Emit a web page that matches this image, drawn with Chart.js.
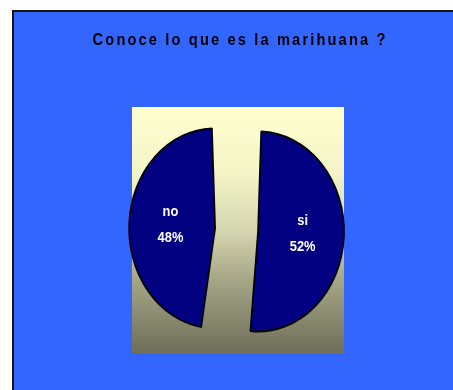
<!DOCTYPE html>
<html>
<head>
<meta charset="utf-8">
<script src="https://cdn.jsdelivr.net/npm/chart.js@4/dist/chart.umd.min.js"></script>
<style>
  html, body { margin: 0; padding: 0; background: #fff; overflow: hidden; }
  canvas { display: block; }
</style>
</head>
<body>
<canvas id="c" width="453" height="390"></canvas>
<script>
// Survey answers: "¿Conoce lo que es la marihuana?"
const chartTitle = 'Conoce lo que es la marihuana ?';
const categories = ['si', 'no'];
const percentages = [52, 48];

// The whole figure is drawn slightly condensed horizontally.
const SX = 0.86;
// Radial growth of each exploded slice (logical px) and base radius.
const GROW = 23.33;
const PIE_RADIUS = 100 - GROW;

const total = percentages.reduce((a, b) => a + b, 0);
const fixFor = (v) => 1 - Math.sin(Math.min(Math.PI, v / total * Math.PI * 2));

const framePlugin = {
  id: 'frame',
  beforeDraw(chart) {
    const ctx = chart.ctx;
    ctx.save();
    ctx.fillStyle = '#ffffff';
    ctx.fillRect(0, 0, chart.width, chart.height);
    ctx.fillStyle = '#161616';
    ctx.fillRect(12, 10, 460, 400);
    ctx.fillStyle = '#3366ff';
    ctx.fillRect(14, 12, 460, 400);
    ctx.restore();

    // condensed drawing space for everything else
    ctx.save();
    ctx.scale(SX, 1);

    const a = chart.chartArea;
    const g = ctx.createLinearGradient(0, a.top, 0, a.bottom);
    g.addColorStop(0, '#ffffd0');
    g.addColorStop(0.28, '#f3f3c6');
    g.addColorStop(0.5, '#d6d6b0');
    g.addColorStop(0.72, '#a2a284');
    g.addColorStop(1, '#6f6f5a');
    ctx.fillStyle = g;
    ctx.fillRect(a.left, a.top, a.right - a.left, a.bottom - a.top);

    ctx.save();
    ctx.font = 'bold 17px "Liberation Sans", Arial, sans-serif';
    ctx.letterSpacing = '2.5px';
    ctx.fillStyle = '#000000';
    ctx.textAlign = 'center';
    ctx.textBaseline = 'alphabetic';
    ctx.fillText(chartTitle, 239 / SX + 1.25, 45);
    ctx.restore();
  },
  afterDraw(chart) {
    const ctx = chart.ctx;
    const meta = chart.getDatasetMeta(0);
    ctx.save();
    ctx.font = 'bold 15px "Liberation Sans", Arial, sans-serif';
    ctx.fillStyle = '#ffffff';
    ctx.textAlign = 'center';
    ctx.textBaseline = 'alphabetic';
    meta.data.forEach((el, i) => {
      const ang = (el.startAngle + el.endAngle) / 2;
      const off = el.options.offset / 4;
      const r = el.outerRadius + off * fixFor(percentages[i]);
      const d = off + 0.52 * r;
      const x = el.x + Math.cos(ang) * d;
      const y = el.y + Math.sin(ang) * d;
      ctx.fillText(categories[i], x, y - 13 + 3.5);
      ctx.fillText(percentages[i] + '%', x, y + 13 + 3.5);
    });
    ctx.restore();
    ctx.restore();
  }
};

new Chart(document.getElementById('c'), {
  type: 'pie',
  data: {
    labels: categories,
    datasets: [{
      data: percentages,
      backgroundColor: '#000080',
      borderColor: '#000000',
      borderWidth: 2,
      offset: (c) => 4 * GROW / fixFor(c.dataset.data[c.dataIndex])
    }]
  },
  options: {
    responsive: false,
    animation: false,
    devicePixelRatio: 1,
    events: [],
    radius: PIE_RADIUS,
    layout: {
      padding: { left: 132 / SX, right: 453 - 344 / SX, top: 107, bottom: 37 }
    },
    plugins: {
      legend: { display: false },
      title: { display: false },
      tooltip: { enabled: false }
    }
  },
  plugins: [framePlugin]
});
</script>
</body>
</html>
